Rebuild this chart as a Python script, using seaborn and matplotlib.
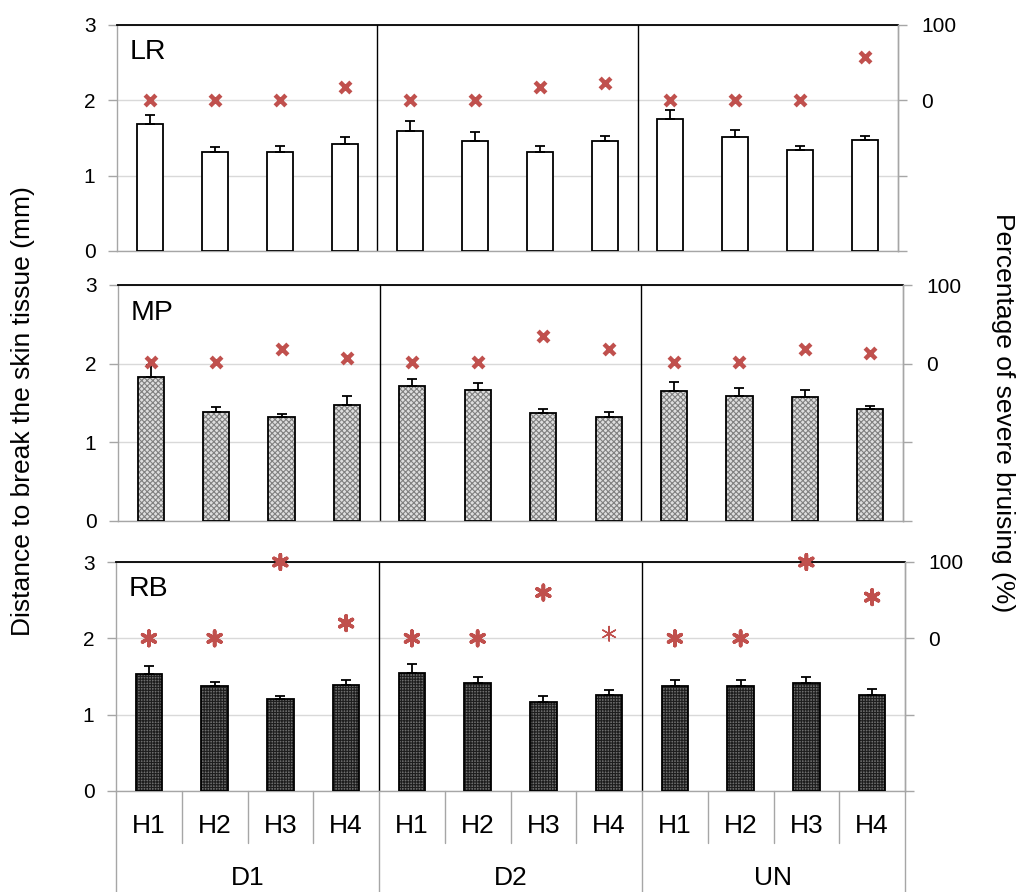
import numpy as np
import pandas as pd
import matplotlib
matplotlib.use("Agg")
import matplotlib.pyplot as plt
import matplotlib.transforms as mtransforms
import seaborn as sns

# ---------------- data ----------------
groups = ["D1", "D2", "UN"]
hs = ["H1", "H2", "H3", "H4"]
panels = ["LR", "MP", "RB"]

LR_mean = [1.68, 1.32, 1.32, 1.42, 1.59, 1.46, 1.32, 1.46, 1.75, 1.51, 1.34, 1.47]
LR_err = [0.12, 0.06, 0.07, 0.09, 0.13, 0.12, 0.07, 0.07, 0.12, 0.09, 0.05, 0.06]
LR_pct = [0, 0, 0, 18, 0, 0, 18, 23, 0, 0, 0, 57]

MP_mean = [1.83, 1.38, 1.32, 1.47, 1.72, 1.67, 1.37, 1.32, 1.65, 1.59, 1.57, 1.42]
MP_err = [0.15, 0.07, 0.04, 0.12, 0.08, 0.08, 0.06, 0.07, 0.12, 0.10, 0.09, 0.04]
MP_pct = [2, 2, 19, 7, 2, 2, 35, 19, 2, 2, 19, 14]

RB_mean = [1.53, 1.37, 1.20, 1.39, 1.55, 1.41, 1.17, 1.26, 1.37, 1.37, 1.41, 1.26]
RB_err = [0.11, 0.06, 0.05, 0.06, 0.12, 0.09, 0.08, 0.06, 0.08, 0.08, 0.09, 0.07]
RB_pct = [0, 0, 100, 20, 0, 0, 60, 6, 0, 0, 100, 54]

left_ticks = [0, 1, 2, 3]
right_ticks = [-200, -100, 0, 100]
right_ticklabels = ["", "", "0", "100"]

# ---------------- style ----------------
sns.set_style("white")
plt.rcParams["font.family"] = ["Liberation Sans", "DejaVu Sans"]
plt.rcParams["hatch.linewidth"] = 0.8
plt.rcParams["text.color"] = "black"
plt.rcParams["ytick.labelcolor"] = "black"
plt.rcParams["xtick.labelcolor"] = "black"

W, H = 1022, 892
fig = plt.figure(figsize=(W / 100, H / 100), dpi=100)

# pixel boxes: left, right, top, bottom
boxes = [(117, 898, 25, 251), (118, 903, 285, 521), (116, 905, 562, 791)]
styles = [
    dict(face="white", hatch=None, hcol="black"),
    dict(face="#dedede", hatch="xxxxxx", hcol="#808080"),
    dict(face="#6e6e6e", hatch="++++++", hcol="#1e1e1e"),
]
means = [LR_mean, MP_mean, RB_mean]
errs = [LR_err, MP_err, RB_err]
pcts = [LR_pct, MP_pct, RB_pct]

cats = [f"{g}-{h}" for g in groups for h in hs]
red = "#C0504D"
gray = "#a6a6a6"

for i, (name, box) in enumerate(zip(panels, boxes)):
    l, r, t, b = box
    ax = fig.add_axes([l / W, 1 - b / H, (r - l) / W, (b - t) / H])
    df = pd.DataFrame({"cat": cats, "mean": means[i], "err": errs[i], "pct": pcts[i]})
    st = styles[i]

    # filled / hatched layer
    sns.barplot(data=df, x="cat", y="mean", order=cats, ax=ax, width=0.4,
                color=st["face"], saturation=1, errorbar=None,
                edgecolor=st["hcol"], linewidth=0, zorder=2)
    if st["hatch"]:
        for p in ax.patches:
            p.set_hatch(st["hatch"])
    # outline layer
    sns.barplot(data=df, x="cat", y="mean", order=cats, ax=ax, width=0.4,
                fill=False, color="black", errorbar=None,
                edgecolor="black", linewidth=1.3, zorder=3)
    xpos = np.arange(len(cats))
    ax.errorbar(xpos, df["mean"], yerr=[np.zeros(len(cats)), df["err"]],
                fmt="none", ecolor="black", elinewidth=1.3, capsize=3.4,
                capthick=1.3, zorder=4)

    ax.set_xlim(-0.5, len(cats) - 0.5)
    ax.set_ylim(0, 3)
    ax.set_yticks(left_ticks)
    ax.set_xlabel("")
    ax.set_ylabel("")
    ax.tick_params(axis="x", bottom=False, labelbottom=False)
    ax.tick_params(axis="y", left=True, direction="out", length=6.5, width=1,
                   color=gray, pad=9, labelsize=15, labelcolor="black")
    ax.set_axisbelow(True)
    ax.grid(axis="y", color="#d9d9d9", linewidth=1)
    ax.grid(axis="x", visible=False)
    for s in ["left", "right", "bottom"]:
        ax.spines[s].set_color(gray)
        ax.spines[s].set_linewidth(1)
    ax.spines["top"].set_color("black")
    ax.spines["top"].set_linewidth(1.3)
    for xv in [3.5, 7.5]:
        ax.axvline(xv, color="black", linewidth=1, zorder=1)

    ax.text(0.016, 0.88, name, transform=ax.transAxes, fontsize=20.5,
            ha="left", va="center", color="black")

    # secondary axis
    ax2 = ax.twinx()
    if name == "RB":
        sns.scatterplot(x=xpos, y=df["pct"], ax=ax2, marker=(6, 2, 0), s=110,
                        color=red, linewidth=2.6, clip_on=False, zorder=5)
        lw = [2.6] * len(cats)
        lw[7] = 1.0
        ax2.collections[-1].set_linewidths(lw)
    else:
        sns.scatterplot(x=xpos, y=df["pct"], ax=ax2, marker="x", s=60,
                        color=red, linewidth=3.2, clip_on=False, zorder=5)
    ax2.set_xlim(-0.5, len(cats) - 0.5)
    ax2.set_ylim(-200, 100)
    ax2.set_yticks(right_ticks)
    ax2.set_yticklabels(right_ticklabels)
    ax2.set_ylabel("")
    ax2.set_xlabel("")
    ax2.tick_params(axis="y", right=True, direction="out", length=6.5, width=1,
                    color=gray, pad=10, labelsize=15, labelcolor="black")
    ax2.grid(False)
    for s in ["left", "top", "bottom"]:
        ax2.spines[s].set_visible(False)
    ax2.spines["right"].set_color(gray)
    ax2.spines["right"].set_linewidth(1)

    if name == "RB":
        trans = mtransforms.blended_transform_factory(ax.transData, ax.transAxes)
        for k, c in enumerate(cats):
            ax.text(k, -0.153, hs[k % 4], transform=trans, ha="center",
                    va="center", fontsize=19, color="black")
        for gi, g in enumerate(groups):
            ax.text(gi * 4 + 1.5, -0.38, g, transform=trans, ha="center",
                    va="center", fontsize=19, color="black")
        for k in range(len(cats) + 1):
            xv = k - 0.5
            ybot = -0.45 if k % 4 == 0 else -0.227
            ax.plot([xv, xv], [0, ybot], transform=trans, color=gray,
                    linewidth=1, clip_on=False)

fig.text(23 / W, 1 - 411 / H, "Distance to break the skin tissue (mm)",
         rotation=90, ha="center", va="center", fontsize=19, color="black")
fig.text(1003 / W, 1 - 413 / H, "Percentage of severe bruising (%)",
         rotation=270, ha="center", va="center", fontsize=19, color="black")

fig.savefig("out.png", dpi=100)
